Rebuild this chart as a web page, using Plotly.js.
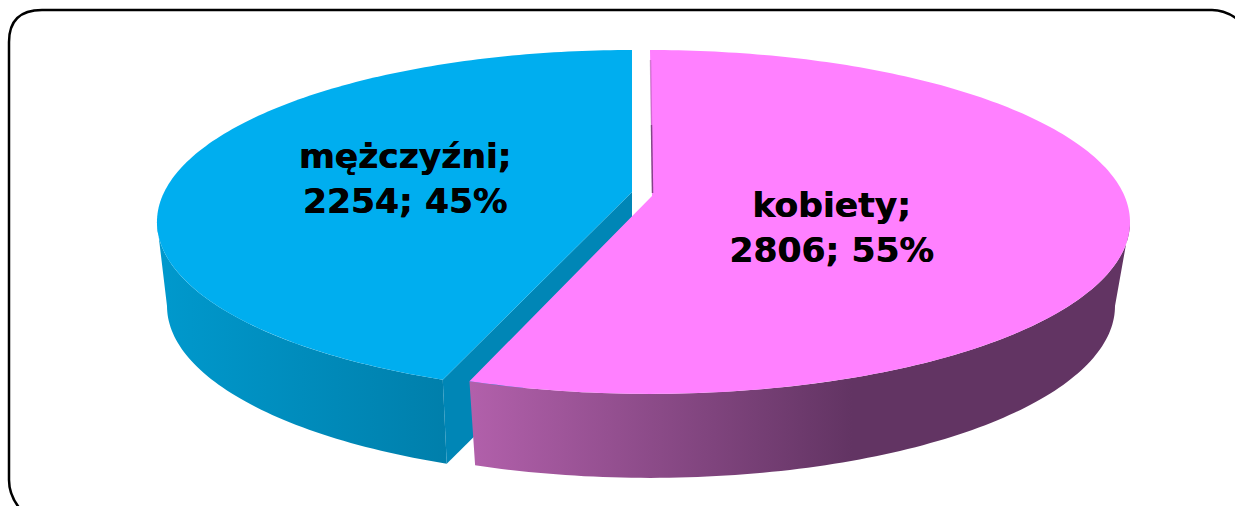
<!DOCTYPE html>
<html>
<head>
<meta charset="utf-8">
<script src="https://cdn.plot.ly/plotly-3.0.1.min.js"></script>
<style>html,body{margin:0;padding:0;background:#fff}#chart{width:1235px;height:506px}</style>
</head>
<body>
<div id="chart"></div>
<script>
// Data
const categories = ['kobiety', 'mężczyźni'];
const values = [2806, 2254];
const percents = [55, 45];
const labelX = [831.5, 405];
const labelY = [231, 182];

// 3D projection of the pie (screen pixels on a 1235x506 axis)
const SLICE_CX = [650, 632], APEX_X = [652, 632], APEX_Y = [196, 192];
const SLICE_A = [474.5, 469.6];
const TOP_CY = 196, K = 0.151, B = 168;
const DEPTH = 84, BOTTOM_RX = 465, GAP = 0.6;
const rad = d => d * Math.PI / 180;

function project(i, deg, bottom) {
  const u = Math.sin(rad(deg)), v = -Math.cos(rad(deg)), w = 1 - K * v;
  const a = bottom ? BOTTOM_RX * Math.sqrt(1 - K * K) : SLICE_A[i];
  return [SLICE_CX[i] + a * u / w, TOP_CY + (bottom ? DEPTH : 0) + B * v / w];
}
function arc(i, from, to, bottom) {
  const n = Math.max(2, Math.round(Math.abs(to - from))), pts = [];
  for (let j = 0; j <= n; j++) pts.push(project(i, from + (to - from) * j / n, bottom));
  return pts;
}
function poly(pts, style) {
  return Object.assign({
    x: pts.map(p => p[0]), y: pts.map(p => p[1]),
    type: 'scatter', mode: 'none', fill: 'toself', hoverinfo: 'skip', showlegend: false
  }, style);
}

const total = values[0] + values[1];
const split = 360 * values[0] / total;
const EXTREME = 98.7;

const traces = [
  // blue outer wall
  poly(arc(1, 360 - EXTREME, split + GAP, false).concat(arc(1, split + GAP, 360 - EXTREME, true)), {
    fillgradient: {type: 'horizontal', colorscale: [[0, '#0099cd'], [1, '#007fab']]}
  }),
  // blue cut wall
  poly([project(1, split + GAP, false), [APEX_X[1], APEX_Y[1]], [APEX_X[1], APEX_Y[1] + DEPTH + 4], project(1, split + GAP, true)],
       {fillcolor: '#0086b6'}),
  // blue top
  poly([[APEX_X[1], APEX_Y[1]]].concat(arc(1, split + GAP, 360, false)), {fillcolor: '#00AEEF'}),
  // pink outer wall
  poly(arc(0, EXTREME, split - GAP, false).concat(arc(0, split - GAP, EXTREME, true)), {
    fillgradient: {type: 'horizontal', colorscale: [[0, '#b260ab'], [0.58, '#623463'], [1, '#623463']]}
  }),
  // pink top
  poly([[APEX_X[0], APEX_Y[0]]].concat(arc(0, 0, split - GAP, false)), {fillcolor: '#FF80FF'}),
  // sliver of the pink cut wall
  {x: [650.5, 651.5], y: [60, 125], type: 'scatter', mode: 'lines', hoverinfo: 'skip', showlegend: false,
   line: {color: 'rgba(120,70,120,0.35)', width: 1.5}},
  {x: [651.5, 652.5], y: [125, 193], type: 'scatter', mode: 'lines', hoverinfo: 'skip', showlegend: false,
   line: {color: 'rgba(100,50,105,0.8)', width: 1.5}},
  // labels
  {x: labelX, y: labelY, type: 'scatter', mode: 'text', hoverinfo: 'skip', showlegend: false,
   text: categories.map((c, i) => `<b>${c};<br>${values[i]}; ${percents[i]}%</b>`),
   textposition: 'middle center',
   textfont: {family: 'DejaVu Sans', size: 34.5, color: '#000', shadow: '0.5px 0 0 #000'}}
];

const layout = {
  width: 1235, height: 506,
  margin: {l: 0, r: 0, t: 0, b: 0},
  paper_bgcolor: '#fff', plot_bgcolor: '#fff',
  showlegend: false,
  xaxis: {range: [0, 1235], visible: false, fixedrange: true},
  yaxis: {range: [506, 0], visible: false, fixedrange: true},
  shapes: [{
    type: 'path', layer: 'above', xref: 'x', yref: 'y',
    path: 'M 21,510 Q 9,496 9,480 L 9,42 Q 9,10 42,10 L 1212,10 Q 1226,10 1240,21',
    line: {color: '#000', width: 2.5}
  }]
};
Plotly.newPlot('chart', traces, layout, {displayModeBar: false, staticPlot: true});
</script>
</body>
</html>
